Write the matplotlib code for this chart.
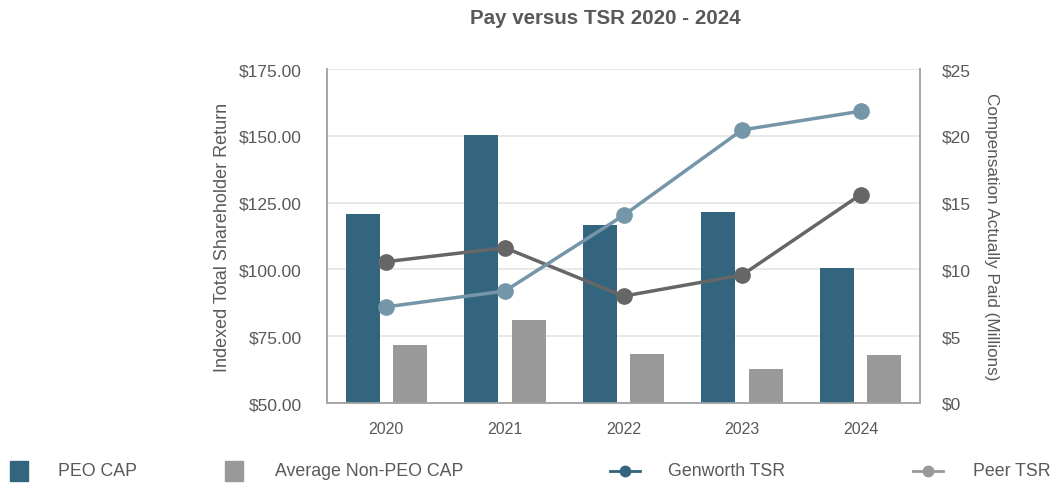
import matplotlib
matplotlib.use("Agg")
import matplotlib.pyplot as plt
import numpy as np
from matplotlib.patches import Rectangle
from matplotlib.lines import Line2D

plt.rcParams['font.family'] = ['Liberation Sans', 'DejaVu Sans']

years = ["2020", "2021", "2022", "2023", "2024"]
peo_cap = [14.15, 20.05, 13.3, 14.3, 10.1]          # $ millions
non_peo_cap = [4.35, 6.25, 3.7, 2.55, 3.6]          # $ millions
genworth_tsr = [102.9, 108.1, 90.0, 97.9, 128.0]
peer_tsr = [86.0, 91.9, 120.2, 152.2, 159.2]

tsr_ticks = [50, 75, 100, 125, 150, 175]
cap_ticks = [0, 5, 10, 15, 20, 25]

c_peo = "#33657e"
c_non = "#999999"
c_gen = "#666666"
c_peer = "#7596a8"
c_text = "#595959"
c_spine = "#a6a6a6"

fig = plt.figure(figsize=(10.52, 4.85), dpi=100)
ax_cap = fig.add_axes([327 / 1052, 81 / 485, 593 / 1052, 334 / 485])
ax_tsr = ax_cap.twinx()

x = np.arange(len(years)) + 0.5
bw = 0.287
off = 0.2

# compensation bars (right axis)
ax_cap.bar(x - off, peo_cap, width=bw, color=c_peo, zorder=3)
ax_cap.bar(x + off, non_peo_cap, width=bw, color=c_non, zorder=3)
ax_cap.set_ylim(0, 25)
ax_cap.set_xlim(0, len(years))
ax_cap.set_yticks(cap_ticks)
ax_cap.yaxis.grid(True, color="#e4e4e4", linewidth=1.2, zorder=0)
ax_cap.set_axisbelow(True)
ax_cap.yaxis.tick_right()
ax_cap.yaxis.set_label_position("right")
ax_cap.set_yticklabels([f"${v}" for v in cap_ticks])
ax_cap.set_ylabel("Compensation Actually Paid (Millions)", rotation=270,
                  fontsize=12.3, color=c_text, labelpad=20)
ax_cap.set_xticks(x)
ax_cap.set_xticklabels(years)

# TSR lines (left axis), drawn above the bars
ax_tsr.set_zorder(ax_cap.get_zorder() + 1)
ax_tsr.patch.set_visible(False)
ax_tsr.plot(x, genworth_tsr, color=c_gen, linewidth=2.5, marker="o",
            markersize=11, zorder=4)
ax_tsr.plot(x, peer_tsr, color=c_peer, linewidth=2.5, marker="o",
            markersize=11, zorder=4)
ax_tsr.set_ylim(50, 175)
ax_tsr.set_yticks(tsr_ticks)
ax_tsr.yaxis.tick_left()
ax_tsr.yaxis.set_label_position("left")
ax_tsr.set_yticklabels([f"${v:.2f}" for v in tsr_ticks])
ax_tsr.set_ylabel("Indexed Total Shareholder Return", fontsize=13,
                  color=c_text, labelpad=6)

for a in (ax_cap, ax_tsr):
    a.tick_params(axis="both", length=0, labelsize=12.5, labelcolor=c_text)
    a.spines["top"].set_visible(False)
    for s in ("left", "right", "bottom"):
        a.spines[s].set_color(c_spine)
        a.spines[s].set_linewidth(1.2)
ax_cap.tick_params(axis="y", pad=16)
ax_tsr.tick_params(axis="y", pad=18)
ax_cap.tick_params(axis="x", pad=13, labelsize=11.5)

fig.text(605 / 1052, 1 - 18 / 485, "Pay versus TSR 2020 - 2024",
         ha="center", va="center", fontsize=14.8, fontweight="bold",
         color=c_text)

# legend along the bottom edge
leg = fig.add_axes([0, 0, 1, 1], zorder=10)
leg.set_xlim(0, 1052)
leg.set_ylim(485, 0)
leg.axis("off")
leg.patch.set_visible(False)
leg.add_patch(Rectangle((10, 462), 18, 20, color=c_peo))
leg.add_patch(Rectangle((225, 462), 18, 20, color=c_non))
leg.add_line(Line2D([610, 640], [472, 472], color=c_peo, linewidth=2))
leg.plot([625], [472], marker="o", color=c_peo, markersize=7.5)
leg.add_line(Line2D([913, 943], [472, 472], color=c_non, linewidth=2))
leg.plot([928], [472], marker="o", color=c_non, markersize=7.5)
for xt, label in [(58, "PEO CAP"), (275, "Average Non-PEO CAP"),
                  (668, "Genworth TSR"), (973, "Peer TSR")]:
    leg.text(xt, 472, label, ha="left", va="center", fontsize=12.8,
             color=c_text)

fig.savefig("out.png", dpi=100)
